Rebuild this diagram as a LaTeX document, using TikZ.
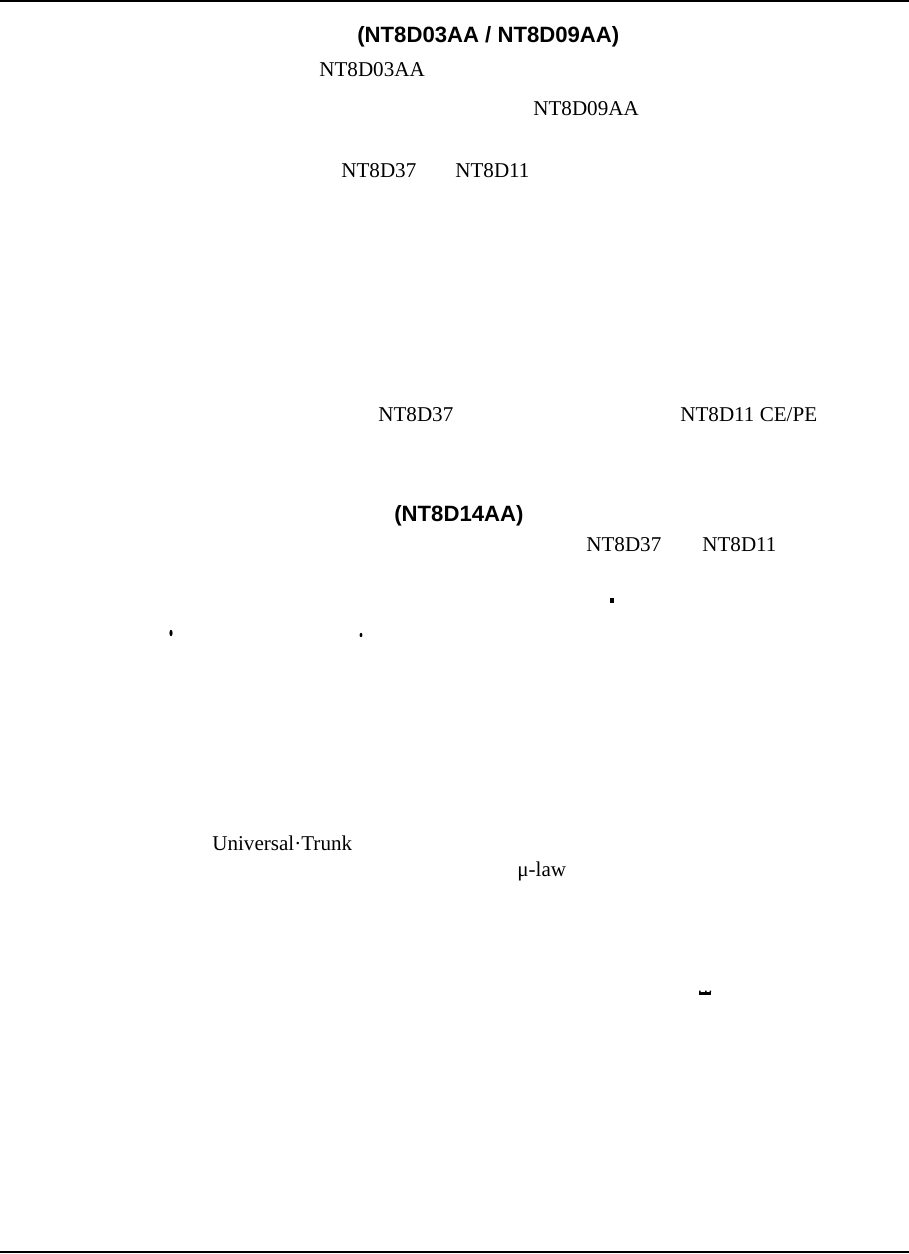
\documentclass[tikz,border=0pt]{standalone}
\usepackage{fontspec}
\setmainfont{Liberation Serif}
\newfontfamily\headfont{Liberation Sans}
\begin{document}
\begin{tikzpicture}[x=0.02cm, y=-0.02cm, font=\fontsize{12}{14}\selectfont, line cap=butt,
	txt/.style={anchor=base west, inner sep=0pt},
	head/.style={txt, font=\headfont\bfseries\fontsize{12.6}{15}\selectfont},
	rule/.style={line width=1.3pt}]
		\useasboundingbox (0,0) rectangle (909,1254);
		% page rules
		\draw[rule] (0,1)--(909,1);
		\draw[rule] (0,1252)--(909,1252);
		% headings and part numbers
		\node[head] (hcard) at (357,42) {(NT8D03AA / NT8D09AA)};
		\node[txt] (pa) at (319,76) {NT8D03AA};
		\node[txt] (pb) at (533,115) {NT8D09AA};
		\node[txt] (ma) at (341,177) {NT8D37};
		\node[txt] (mb) at (455,177) {NT8D11};
		\node[txt] (mc) at (378,421) {NT8D37};
		\node[txt] (md) at (680,421) {NT8D11 CE/PE};
		\node[head] (hdist) at (394,521) {(NT8D14AA)};
		\node[txt] (me) at (586,551) {NT8D37};
		\node[txt] (mf) at (702,551) {NT8D11};
		\node[txt] (ut) at (212,850) {Universal·Trunk};
		\node[txt] (mu) at (517,876) {μ-law};
		% stray marks
		\fill (610,598) rectangle (614,603);
		\fill (171,633) ellipse (1.6 and 3.2);
		\fill (361,635) ellipse (1.4 and 2.2);
		\fill (699,992) rectangle (711,994.5);
		\fill (699,990.5) rectangle (700.5,992) (705,990.5) rectangle (706.5,992) (709.5,990.5) rectangle (711,992);
	\end{tikzpicture}
\end{document}
